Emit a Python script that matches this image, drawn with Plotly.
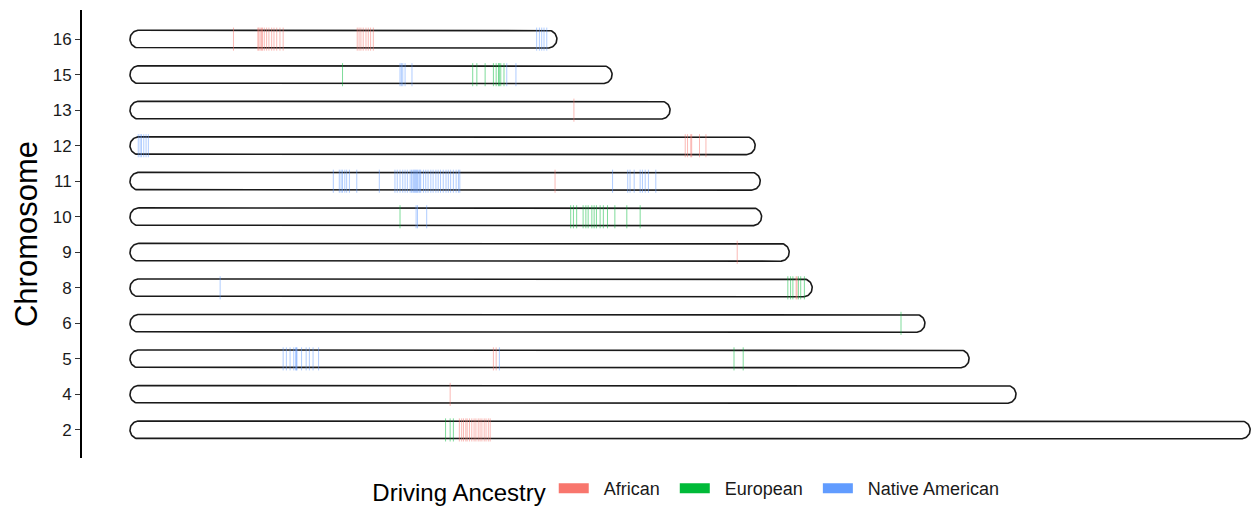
import numpy as np
import plotly.graph_objects as go

# ---------------- data ----------------
chromosomes = ["2", "4", "5", "6", "8", "9", "10", "11", "12", "13", "15", "16"]
# chromosome lengths (Mb)
lengths = [243.5, 192.6, 182.4, 172.8, 148.3, 143.3, 137.3, 137.0, 135.9, 117.4, 104.8, 92.8]

# positions (Mb) of ancestry-driving markers per chromosome
african = {
    "2": [71.6, 72.1, 72.5, 73.0, 73.3, 73.8, 74.3, 74.8, 75.2, 75.7, 76.1, 76.5, 77.0, 77.4, 77.9, 78.3],
    "4": [69.6],
    "5": [79.0, 79.6],
    "8": [144.8, 145.0],
    "9": [132.0],
    "11": [92.4],
    "12": [120.7, 121.2, 121.9, 122.1, 123.8, 125.2],
    "13": [96.5],
    "16": [22.5, 27.8, 28.0, 28.3, 28.6, 28.8, 29.2, 29.7, 30.2, 30.8, 31.3, 31.9, 32.6, 33.3,
           49.4, 49.8, 50.2, 50.7, 51.3, 51.8, 52.3, 52.9],
}
european = {
    "2": [68.6, 69.6, 70.3],
    "5": [131.3, 133.3],
    "6": [167.6],
    "8": [143.0, 143.6, 144.1, 145.3, 145.8, 146.6],
    "10": [58.7, 95.8, 96.4, 97.1, 98.5, 99.1, 99.6, 100.4, 100.9, 101.4, 102.2, 102.9, 103.8,
           105.4, 108.0, 110.9],
    "15": [46.2, 74.5, 75.4, 77.2, 79.0, 79.6, 80.1, 80.3, 80.6, 81.3],
}
native_american = {
    "5": [33.3, 34.0, 34.8, 35.6, 36.0, 36.2, 36.3, 37.3, 38.3, 39.0, 39.8, 41.0, 80.3],
    "8": [19.6],
    "10": [62.2, 62.5, 64.5],
    "11": [44.2, 45.5, 45.9, 46.2, 46.7, 47.1, 47.7, 49.3, 54.2,
           57.6, 58.1, 58.7, 59.3, 59.8, 60.3, 60.9, 61.2, 61.5, 61.7, 61.9, 62.1, 62.3, 62.5,
           62.8, 63.0, 63.2, 63.8, 64.3, 64.8, 65.4, 65.9, 66.5, 67.0, 67.5, 68.1, 68.7, 69.2,
           69.7, 70.3, 70.9, 71.4, 71.7,
           104.9, 108.2, 108.7, 109.6, 110.9, 111.4, 112.0, 112.7, 114.3],
    "12": [1.8, 2.2, 2.5, 3.0, 3.5, 4.0],
    "15": [58.7, 59.0, 59.3, 59.8, 61.3, 81.9, 83.9],
    "16": [88.4, 89.0, 89.5, 90.0, 90.6],
}
ancestry_names = ["African", "European", "Native American"]
ancestry_colors = ["#F8766D", "#00BA38", "#619CFF"]
ancestry_rgba = ["rgba(248,118,109,0.5)", "rgba(0,186,56,0.5)", "rgba(97,156,255,0.5)"]
ancestry_data = [african, european, native_american]

# ---------------- layout geometry ----------------
W, H = 1252, 507
ml, mr, mt, mb = 82, 0, 10, 49
pw, ph = W - ml - mr, H - mt - mb
x_range = [-10.43, 243.9]
y_range = [-0.79, 11.82]
px_per_x = pw / (x_range[1] - x_range[0])
px_per_y = ph / (y_range[1] - y_range[0])
half_h = 0.25                      # half height of chromosome in category units
r_px = half_h * px_per_y           # cap radius in pixels
rx = r_px / px_per_x               # cap radius in x units

fig = go.Figure()

# chromosome outlines (rounded rectangles)
t_right = np.linspace(np.pi / 2, -np.pi / 2, 30)
t_left = np.linspace(-np.pi / 2, -3 * np.pi / 2, 30)
for i, (c, L) in enumerate(zip(chromosomes, lengths)):
    xs = [rx, L - rx] + list(L - rx + rx * np.cos(t_right)) + [L - rx, rx] + list(rx + rx * np.cos(t_left)) + [rx]
    ys = [i + half_h, i + half_h] + list(i + half_h * np.sin(t_right)) + [i - half_h, i - half_h] + list(i + half_h * np.sin(t_left)) + [i + half_h]
    fig.add_trace(go.Scatter(x=xs, y=ys, mode="lines", line=dict(color="#1a1a1a", width=1.6),
                             showlegend=False, hoverinfo="skip", fill="toself", fillcolor="white"))

# ancestry markers
NB = "\u00a0"
for name, col, rgba, d in zip(ancestry_names, ancestry_colors, ancestry_rgba, ancestry_data):
    xs, ys = [], []
    for c, pos in d.items():
        yi = chromosomes.index(c)
        xs += pos
        ys += [yi] * len(pos)
    fig.add_trace(go.Scatter(x=xs, y=ys, mode="markers",
                             marker=dict(symbol="line-ns", size=16.5,
                                         line=dict(color=rgba, width=1)),
                             showlegend=False, name=name, hoverinfo="x+name"))
    fig.add_trace(go.Scatter(x=[None], y=[None], mode="lines", name=NB * 2 + name + NB * 2,
                             line=dict(color=col, width=10)))

font_family = "Liberation Sans, Arial, Helvetica, sans-serif"
fig.update_layout(
    width=W, height=H,
    margin=dict(l=ml, r=mr, t=mt, b=mb, autoexpand=False),
    paper_bgcolor="white", plot_bgcolor="white",
    font=dict(family=font_family, color="#1a1a1a"),
    xaxis=dict(range=x_range, visible=False, fixedrange=True, automargin=False),
    yaxis=dict(range=y_range, tickmode="array", tickvals=list(range(len(chromosomes))),
               ticktext=chromosomes, showline=True, linecolor="black", linewidth=2,
               ticks="outside", ticklen=5, tickcolor="#333", tickwidth=1, automargin=False,
               tickfont=dict(size=17, color="#1a1a1a"), showgrid=False, zeroline=False,
               title=dict(text="Chromosome", font=dict(size=31, color="black"), standoff=6)),
    legend=dict(orientation="h", x=0.553, xanchor="center", xref="container",
                y=16 / 507, yanchor="middle", yref="container",
                title=dict(text="Driving Ancestry", font=dict(size=24, color="black")),
                font=dict(size=18, color="#1a1a1a"), itemwidth=30, tracegroupgap=0),
    showlegend=True,
)

fig.write_html(
    "out.html",
    config={"displayModeBar": False},
    post_script="document.body.style.margin='0';document.body.style.overflow='hidden';",
)
